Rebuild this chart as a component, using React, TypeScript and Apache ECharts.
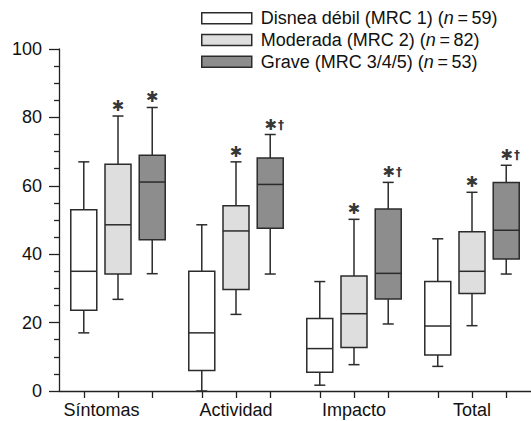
import React, { useEffect, useRef } from 'react';
import * as echarts from 'echarts';

// ---- data ----
const CATEGORIES = ['Síntomas', 'Actividad', 'Impacto', 'Total'];
const SERIES_NAMES = ['Disnea débil (MRC 1)', 'Moderada (MRC 2)', 'Grave (MRC 3/4/5)'];
const SERIES_N = [59, 82, 53];
// [min, Q1, median, Q3, max] per category
const MILD = [
  [17, 23.6, 35, 53, 67],
  [0, 6, 17, 35, 48.6],
  [1.7, 5.5, 12.4, 21.2, 32],
  [7.2, 10.5, 19, 32, 44.5],
];
const MODERATE = [
  [26.8, 34.2, 48.6, 66.3, 80.4],
  [22.4, 29.7, 46.8, 54.2, 67],
  [7.7, 12.7, 22.6, 33.6, 50.2],
  [19.1, 28.5, 35, 46.6, 58.1],
];
const SEVERE = [
  [34.3, 44.2, 61.1, 68.9, 82.9],
  [34.2, 47.6, 60.4, 68.1, 75],
  [19.6, 26.9, 34.4, 53.2, 61],
  [34.2, 38.6, 47, 61, 66],
];
const STAR_MODERATE = [true, true, true, true];
const STAR_SEVERE = [true, true, true, true];
const DAGGER_SEVERE = [false, true, true, true];
const Y_MIN = 0;
const Y_MAX = 100;
const Y_INTERVAL = 20;

// ---- styles ----
const FILLS = ['#ffffff', '#dedede', '#8d8d8d'];
const STROKE = '#2b2b2b';
const LW = 1.5;
const BOX_W = 26;
const CAP_W = 11;
const OFFSET = 0.29; // slot offset within a group, in category units
const FONT = 'Liberation Sans, Arial, Helvetica, sans-serif';
const FS = 18;

const ALL = [MILD, MODERATE, SEVERE];

function slotPos(g: number, s: number) {
  return g + (s - 1) * OFFSET;
}

export default function App() {
  const ref = useRef<HTMLDivElement>(null);
  useEffect(() => {
    if (!ref.current) return;
    const chart = echarts.init(ref.current, undefined, { renderer: 'svg' });

    const tickValues: number[] = [];
    CATEGORIES.forEach((_, g) => {
      for (let s = 0; s < 3; s++) tickValues.push(slotPos(g, s));
    });

    const boxSeries = ALL.map((arr, s) => ({
      type: 'custom',
      name: SERIES_NAMES[s],
      itemStyle: { color: FILLS[s], borderColor: STROKE, borderWidth: LW },
      encode: { x: 0, y: [1, 2, 3, 4, 5] },
      data: arr.map((v, g) => [slotPos(g, s), ...v]),
      renderItem: (params: any, api: any) => {
        const x = api.value(0);
        const c = (i: number) => api.coord([x, api.value(i)]);
        const cx = c(1)[0];
        const yMin = c(1)[1];
        const yQ1 = c(2)[1];
        const yMed = c(3)[1];
        const yQ3 = c(4)[1];
        const yMax = c(5)[1];
        const ls = { stroke: STROKE, lineWidth: LW };
        const h = BOX_W / 2;
        const ch = CAP_W / 2;
        return {
          type: 'group',
          children: [
            { type: 'line', shape: { x1: cx, y1: yMin, x2: cx, y2: yQ1 }, style: ls },
            { type: 'line', shape: { x1: cx, y1: yQ3, x2: cx, y2: yMax }, style: ls },
            { type: 'line', shape: { x1: cx - ch, y1: yMin, x2: cx + ch, y2: yMin }, style: ls },
            { type: 'line', shape: { x1: cx - ch, y1: yMax, x2: cx + ch, y2: yMax }, style: ls },
            {
              type: 'rect',
              shape: { x: cx - h, y: yQ3, width: BOX_W, height: yQ1 - yQ3 },
              style: { fill: FILLS[s], stroke: STROKE, lineWidth: LW },
            },
            { type: 'line', shape: { x1: cx - h, y1: yMed, x2: cx + h, y2: yMed }, style: ls },
          ],
        };
      },
    }));

    const starData: any[] = [];
    [
      { s: 1, arr: MODERATE, stars: STAR_MODERATE, daggers: [false, false, false, false] },
      { s: 2, arr: SEVERE, stars: STAR_SEVERE, daggers: DAGGER_SEVERE },
    ].forEach(({ s, arr, stars, daggers }) => {
      arr.forEach((v, g) => {
        if (!stars[g]) return;
        starData.push({
          value: [slotPos(g, s), v[4], daggers[g] ? 1 : 0],
          label: daggers[g] ? { offset: [4, 0] } : undefined,
        });
      });
    });

    chart.setOption({
      animation: false,
      textStyle: { fontFamily: FONT },
      grid: { left: 59, right: 0, top: 49, bottom: 30, containLabel: false },
      legend: {
        orient: 'vertical',
        left: 201,
        top: 9.3,
        padding: 0,
        icon: 'rect',
        itemWidth: 50,
        itemHeight: 11,
        itemGap: 3.7,
        data: SERIES_NAMES.map((name, s) => ({
          name,
          itemStyle: { color: FILLS[s], borderColor: STROKE, borderWidth: 1.5 },
        })),
        formatter: (name: string) => {
          const n = SERIES_N[SERIES_NAMES.indexOf(name)];
          return `{t|${name} (}{i|n}{t|\u2009=\u2009${n})}`;
        },
        textStyle: {
          padding: [0, 0, 0, 4],
          rich: {
            t: { fontSize: FS, fontFamily: FONT, color: '#111', lineHeight: 19 },
            i: { fontSize: FS, fontFamily: FONT, color: '#111', fontStyle: 'italic', lineHeight: 19 },
          },
        },
      },
      xAxis: {
        type: 'value',
        min: -0.5,
        max: 3.5,
        splitLine: { show: false },
        axisLine: { show: true, onZero: false, lineStyle: { color: '#222', width: 1.3 } },
        axisTick: {
          show: true,
          length: 7,
          customValues: tickValues,
          lineStyle: { color: '#222', width: 1.3 },
        },
        axisLabel: {
          customValues: CATEGORIES.map((_, i) => i),
          margin: 10,
          color: '#111',
          fontSize: FS,
          formatter: (v: number) => {
            const name = CATEGORIES[Math.round(v)];
            return Math.round(v) === 0 ? `{a|${name}}` : name;
          },
          rich: { a: { fontSize: FS, color: '#111', fontFamily: FONT, padding: [0, 33, 0, 0] } },
        },
      },
      yAxis: {
        type: 'value',
        min: Y_MIN,
        max: Y_MAX,
        interval: Y_INTERVAL,
        splitLine: { show: false },
        axisLine: { show: true, onZero: false, lineStyle: { color: '#222', width: 1.3 } },
        axisTick: { show: true, length: 10, lineStyle: { color: '#222', width: 1.3 } },
        minorTick: { show: true, splitNumber: 4, length: 5, lineStyle: { color: '#222', width: 1.3 } },
        axisLabel: { margin: 17, color: '#111', fontSize: FS },
      },
      series: [
        ...boxSeries,
        {
          type: 'scatter',
          name: 'sig',
          symbolSize: 1,
          itemStyle: { color: 'rgba(0,0,0,0)' },
          data: starData,
          label: {
            show: true,
            position: 'top',
            distance: 2,
            color: '#000',
            textBorderWidth: 0,
            formatter: (p: any) => (p.value[2] ? '{s|✱}{d|†}' : '{s|✱}'),
            rich: {
              s: { fontSize: 15, fontFamily: 'DejaVu Sans', color: '#000', fontWeight: 'bold', textBorderWidth: 0 },
              d: { fontSize: 12, fontFamily: 'DejaVu Sans', color: '#000', fontWeight: 'bold', padding: [0, 0, 0, 1], textBorderWidth: 0 },
            },
          },
        },
      ],
    });
    return () => chart.dispose();
  }, []);
  return (
    <div
      ref={ref}
      style={{ position: 'absolute', left: 0, top: 0, width: 531, height: 421 }}
    />
  );
}
